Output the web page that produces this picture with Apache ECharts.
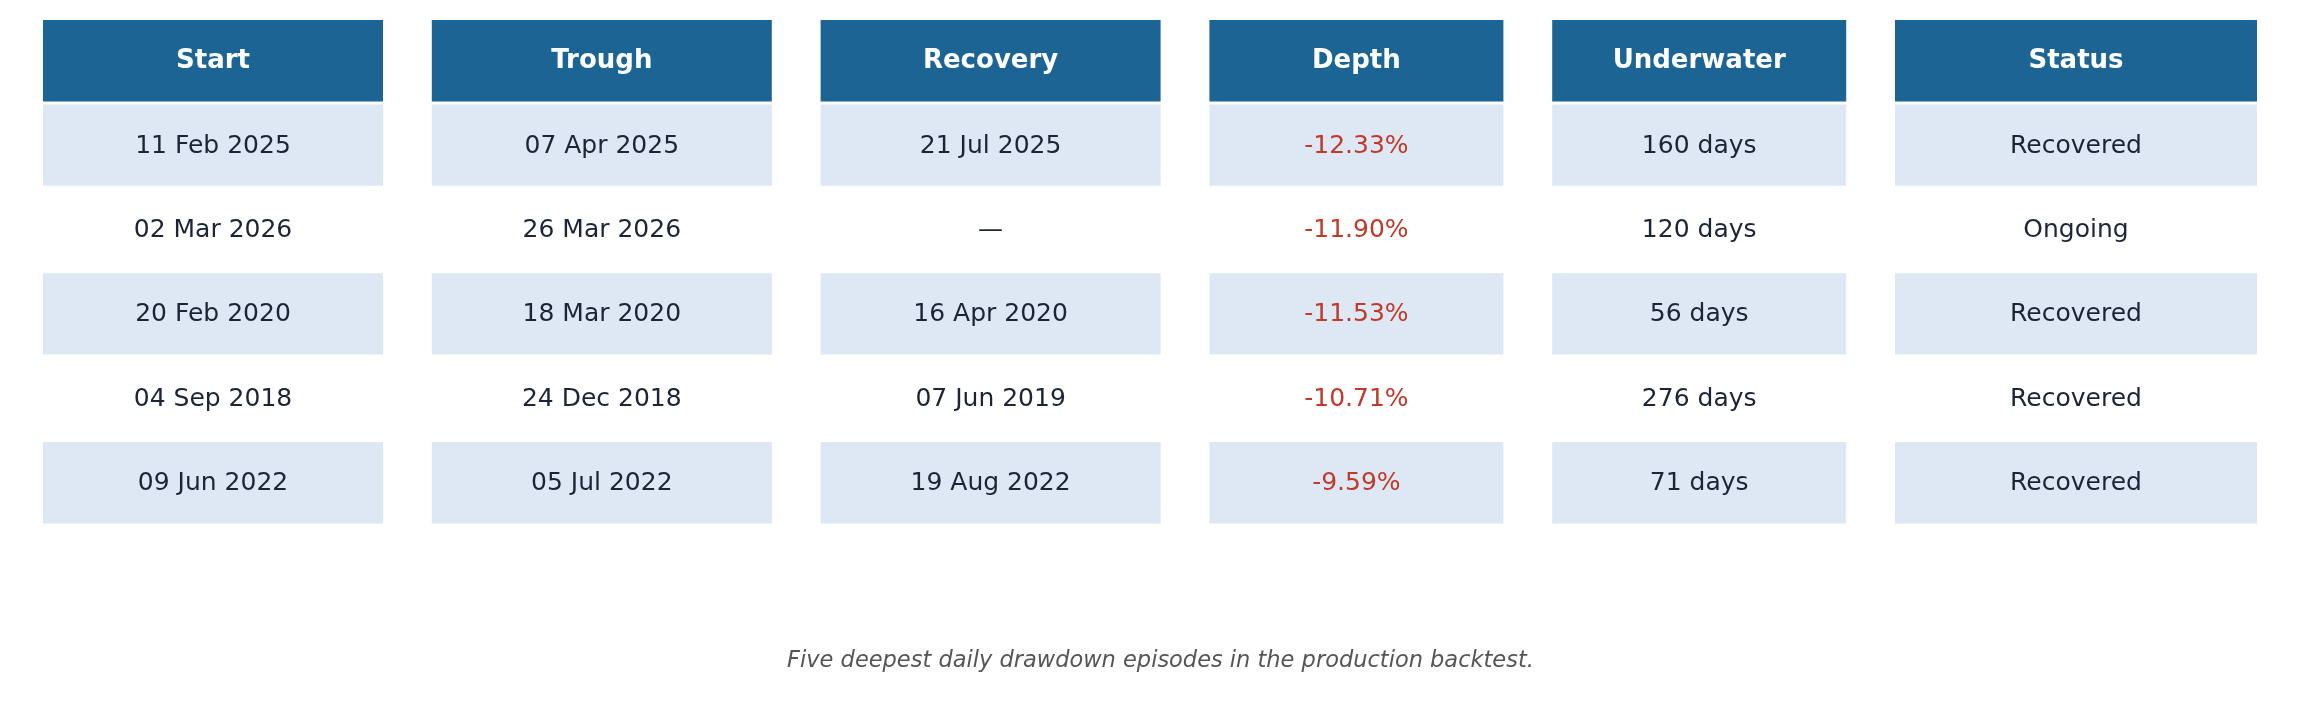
<!DOCTYPE html>
<html>
<head>
<meta charset="utf-8">
<title>Drawdown episodes</title>
<script src="https://cdn.jsdelivr.net/npm/echarts@6/dist/echarts.min.js"></script>
<style>
  html, body { margin: 0; padding: 0; background: #fff; }
  #chart { width: 2321px; height: 704px; }
</style>
</head>
<body>
<div id="chart"></div>
<script>
// table data
const columns = ['Start', 'Trough', 'Recovery', 'Depth', 'Underwater', 'Status'];
const startDates = ['11 Feb 2025', '02 Mar 2026', '20 Feb 2020', '04 Sep 2018', '09 Jun 2022'];
const troughDates = ['07 Apr 2025', '26 Mar 2026', '18 Mar 2020', '24 Dec 2018', '05 Jul 2022'];
const recoveryDates = ['21 Jul 2025', null, '16 Apr 2020', '07 Jun 2019', '19 Aug 2022'];
const depths = [-12.33, -11.90, -11.53, -10.71, -9.59];
const underwaterDays = [160, 120, 56, 276, 71];
const statuses = ['Recovered', 'Ongoing', 'Recovered', 'Recovered', 'Recovered'];
const caption = 'Five deepest daily drawdown episodes in the production backtest.';

// layout (pixel-ish units on the x axis)
const colWidths = [340, 340, 340, 294, 294, 362];
const colGap = 48.8;

document.addEventListener('DOMContentLoaded', function () {
    const chart = echarts.init(document.getElementById('chart'), null, {renderer: 'canvas'});

    const colStarts = [];
    let acc = 0;
    colWidths.forEach(function (w) {
        colStarts.push(acc);
        acc += w + colGap;
    });
    const xMax = acc - colGap;

    const rowNames = ['header'].concat(startDates.map(function (d, i) { return 'r' + i; }));

    const cellText = function (col, i) {
        switch (col) {
            case 0: return startDates[i];
            case 1: return troughDates[i];
            case 2: return recoveryDates[i] === null ? '—' : recoveryDates[i];
            case 3: return depths[i].toFixed(2) + '%';
            case 4: return underwaterDays[i] + ' days';
            default: return statuses[i];
        }
    };

    const cells = [];
    columns.forEach(function (name, c) {
        cells.push({value: [colStarts[c], 0, colWidths[c], name, 'head']});
        startDates.forEach(function (d, i) {
            cells.push({value: [colStarts[c], i + 1, colWidths[c], cellText(c, i), c === 3 ? 'neg' : 'body']});
        });
    });

    const renderCell = function (params, api) {
        const x0 = api.value(0);
        const row = api.value(1);
        const w = api.value(2);
        const kind = api.value(4);
        const p0 = api.coord([x0, row]);
        const p1 = api.coord([x0 + w, row]);
        const band = api.size([0, 1])[1];
        const h = band - 3;
        const fill = kind === 'head' ? '#1c6494' : (row % 2 === 1 ? '#dde8f4' : '#ffffff');
        return {
            type: 'group',
            children: [
                {
                    type: 'rect',
                    shape: {x: p0[0], y: p0[1] - h / 2, width: p1[0] - p0[0], height: h},
                    style: {fill: fill}
                },
                {
                    type: 'text',
                    style: {
                        x: (p0[0] + p1[0]) / 2,
                        y: p0[1] + 1,
                        text: api.value(3),
                        align: 'center',
                        verticalAlign: 'middle',
                        fontFamily: 'DejaVu Sans',
                        fontSize: kind === 'head' ? 26 : 25,
                        fontWeight: kind === 'head' ? 'bold' : 'normal',
                        fill: kind === 'head' ? '#ffffff' : (kind === 'neg' ? '#c0392b' : '#1c2436')
                    }
                }
            ]
        };
    };

    chart.setOption({
        backgroundColor: '#ffffff',
        animation: false,
        title: {
            text: caption,
            left: 'center',
            top: 645,
            textStyle: {
                fontFamily: 'DejaVu Sans',
                fontSize: 22.5,
                fontStyle: 'italic',
                fontWeight: 'normal',
                color: '#555555'
            }
        },
        grid: {left: 43, right: 2321 - 2257, top: 18.5, height: 506.4},
        xAxis: {
            type: 'value',
            min: 0,
            max: xMax,
            show: false
        },
        yAxis: {
            type: 'category',
            data: rowNames,
            inverse: true,
            show: false
        },
        series: [{
            type: 'custom',
            renderItem: renderCell,
            encode: {x: 0, y: 1},
            data: cells
        }]
    });
});
</script>
</body>
</html>
